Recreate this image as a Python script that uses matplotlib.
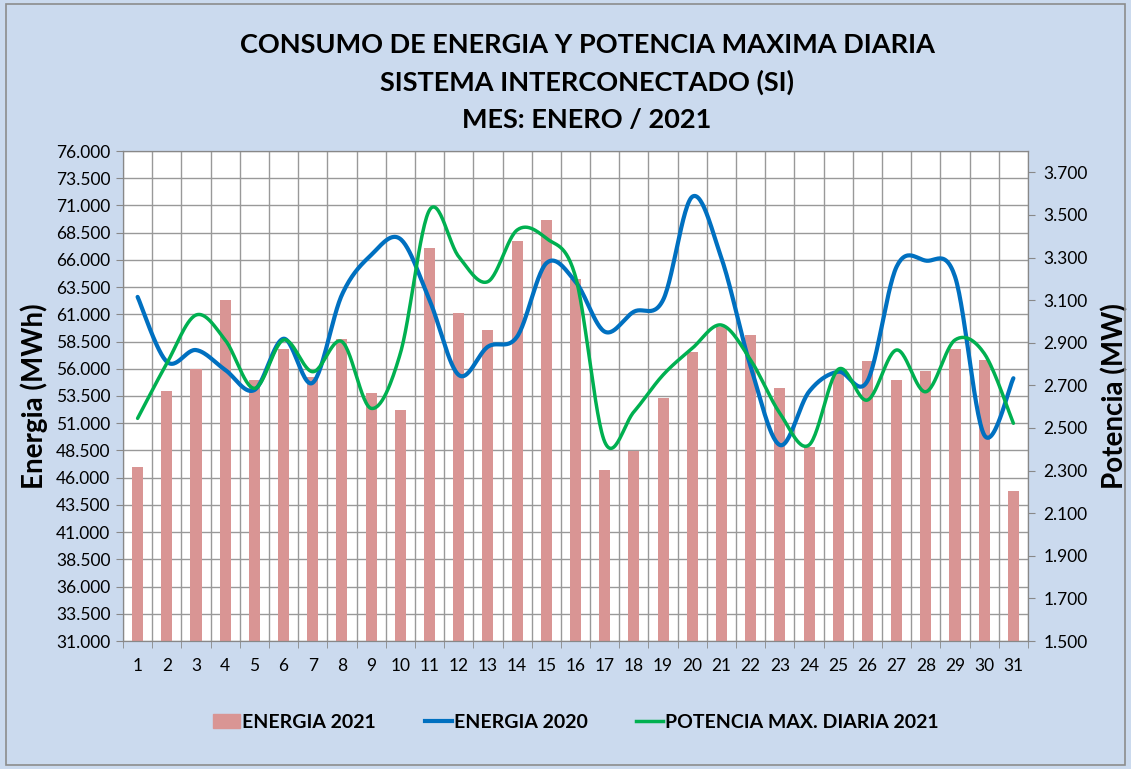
import numpy as np
import matplotlib
matplotlib.use('Agg')
import matplotlib.pyplot as plt
from matplotlib.ticker import FuncFormatter
from matplotlib.patches import Patch
from matplotlib.lines import Line2D

plt.rcParams['font.family'] = ['Lato', 'DejaVu Sans']

dias = list(range(1, 32))
energia_2021 = [46980, 53960, 55980, 62320, 54970, 57820, 55200, 58740, 53780, 52220,
                67080, 61150, 59560, 67700, 69630, 64250, 46700, 48420, 53300, 57550,
                59850, 59100, 54220, 48830, 55600, 56720, 54970, 55810, 57820, 56800, 44800]
energia_2020 = [62600, 56650, 57720, 55900, 54050, 58760, 54720, 62800, 66450, 67920,
                62300, 55430, 58030, 58950, 65690, 64000, 59410, 61240, 62320, 71800,
                66150, 56190, 49000, 53900, 55730, 54880, 65380, 65930, 64460, 49920, 55130]
potencia_2021 = [2545, 2803, 3030, 2913, 2686, 2913, 2764, 2905, 2592, 2850,
                 3523, 3304, 3187, 3429, 3390, 3210, 2435, 2576, 2749, 2874,
                 2983, 2819, 2569, 2420, 2775, 2631, 2866, 2670, 2913, 2850, 2522]

ticks_izq = list(range(31000, 76001, 2500))
ticks_der = list(range(1500, 3701, 200))


def suave(x, y, n=30):
    # curva suavizada tipo Excel (Catmull-Rom con Bezier)
    x = np.asarray(x, float); y = np.asarray(y, float)
    px = np.concatenate([[x[0]], x, [x[-1]]])
    py = np.concatenate([[y[0]], y, [y[-1]]])
    xs, ys = [], []
    t = np.linspace(0, 1, n)
    for i in range(1, len(px) - 2):
        p0 = np.array([px[i], py[i]]); p3 = np.array([px[i + 1], py[i + 1]])
        c1 = p0 + (np.array([px[i + 1], py[i + 1]]) - np.array([px[i - 1], py[i - 1]])) / 6
        c2 = p3 - (np.array([px[i + 2], py[i + 2]]) - np.array([px[i], py[i]])) / 6
        b = ((1 - t) ** 3)[:, None] * p0 + (3 * (1 - t) ** 2 * t)[:, None] * c1 \
            + (3 * (1 - t) * t ** 2)[:, None] * c2 + (t ** 3)[:, None] * p3
        xs.extend(b[:, 0]); ys.extend(b[:, 1])
    return np.array(xs), np.array(ys)


def fmt(v, pos):
    return f"{v:,.0f}".replace(",", ".")


fondo = '#cbdaee'
fig = plt.figure(figsize=(11.31, 7.69), dpi=100, facecolor=fondo)
ax = fig.add_axes([123 / 1131, 1 - 641 / 769, (1028 - 123) / 1131, (641 - 151) / 769])
ax.set_facecolor('white')

ax.bar(dias, energia_2021, width=0.38, color='#d99594', zorder=2)
xb, yb = suave(dias, energia_2020)
ax.plot(xb, yb, color='#0070c0', lw=3.0, zorder=3, solid_capstyle='round')

ax.set_xlim(0.5, 31.5)
ax.set_ylim(31000, 76000)
ax.set_yticks(ticks_izq)
ax.yaxis.set_major_formatter(FuncFormatter(fmt))
ax.set_xticks(dias)
ax.set_xticks(np.arange(0.5, 32, 1), minor=True)
ax.grid(True, axis='y', color='#999999', lw=1.0, zorder=0)
ax.grid(True, axis='x', which='minor', color='#999999', lw=1.0, zorder=0)
ax.tick_params(axis='x', which='major', length=0, pad=12, labelsize=12.5)
ax.tick_params(axis='x', which='minor', length=5, color='#888888', direction='out')
ax.tick_params(axis='y', length=5, color='#888888', labelsize=12.5, pad=4)
for s in ax.spines.values():
    s.set_color('#888888')
ax.set_axisbelow(True)
ax.set_ylabel('Energia (MWh)', fontsize=20, fontweight='bold', labelpad=6)

ax2 = ax.twinx()
xg, yg = suave(dias, potencia_2021)
ax2.plot(xg, yg, color='#00b050', lw=2.5, zorder=3, solid_capstyle='round')
ax2.set_ylim(1500, 3800)
ax2.set_yticks(ticks_der)
ax2.yaxis.set_major_formatter(FuncFormatter(fmt))
ax2.tick_params(axis='y', length=5, color='#888888', labelsize=12.5, pad=6)
for s in ax2.spines.values():
    s.set_color('#888888')
ax2.set_ylabel('Potencia (MW)', fontsize=20, fontweight='bold', labelpad=10)

titulo = ['CONSUMO DE ENERGIA Y POTENCIA MAXIMA DIARIA',
          'SISTEMA INTERCONECTADO (SI)',
          'MES: ENERO / 2021']
for i, linea in enumerate(titulo):
    fig.text(587 / 1131, 1 - (45 + i * 37.5) / 769, linea, ha='center', va='center',
             fontsize=19.5, fontweight='bold')

handles = [Patch(color='#d99594'),
           Line2D([], [], color='#0070c0', lw=3.0),
           Line2D([], [], color='#00b050', lw=2.5)]
labels = ['ENERGIA 2021', 'ENERGIA 2020', 'POTENCIA MAX. DIARIA 2021']
fig.legend(handles, labels, loc='center', bbox_to_anchor=(576 / 1131, 1 - 722 / 769),
           ncol=3, frameon=False, prop={'weight': 'bold', 'size': 14},
           handlelength=1.4, handletextpad=0.1, columnspacing=2.5)

borde = plt.Rectangle((6 / 1131, 4 / 769), 1 - 12 / 1131, 1 - 8 / 769, transform=fig.transFigure,
                      fill=False, edgecolor='#8c8c8c', lw=1.2)
fig.patches.append(borde)

fig.savefig('out.png', dpi=100, facecolor=fondo)
